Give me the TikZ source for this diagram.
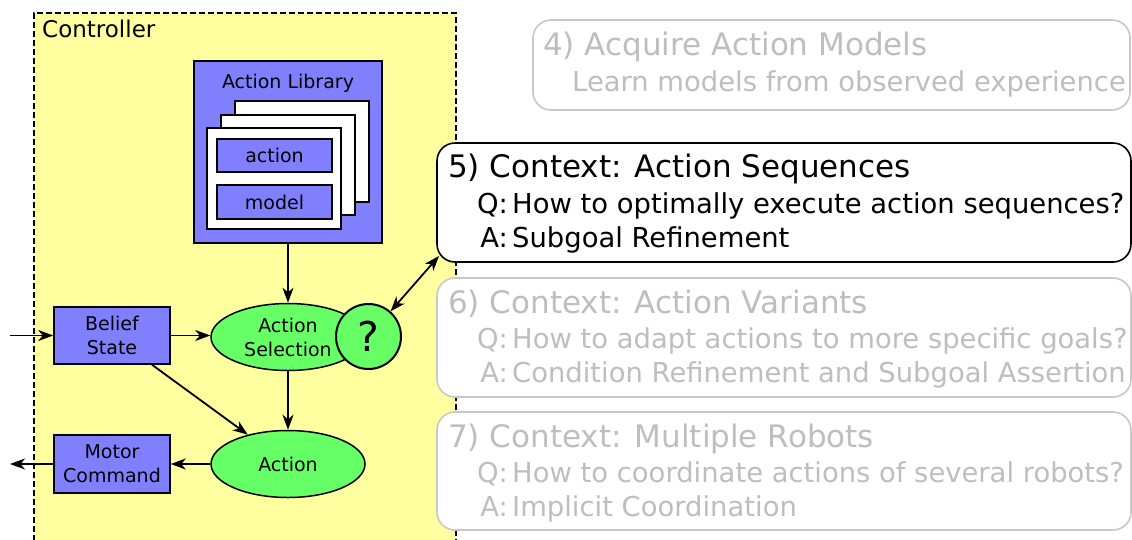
\documentclass[tikz,border=0pt]{standalone}
\usepackage{fontspec}
\setmainfont{DejaVu Sans}
\usetikzlibrary{arrows.meta,shapes.geometric}
\definecolor{ctrlyellow}{RGB}{255,255,160}
\definecolor{libblue}{RGB}{128,128,255}
\definecolor{nodegreen}{RGB}{102,255,102}
\definecolor{fadetext}{RGB}{190,190,190}
\definecolor{fadeline}{RGB}{200,200,200}
\newcommand\dgTitle{\fontsize{31}{37}\selectfont}
\newcommand\dgBody{\fontsize{27.4}{32}\selectfont}
\newcommand\dgNode{\fontsize{19}{24}\selectfont}
\newcommand\dgCtrl{\fontsize{23}{28}\selectfont}
\newcommand\dgQmark{\fontsize{41}{48}\selectfont}
\begin{document}
\begin{tikzpicture}[x=1pt,y=-1pt,
  bluebox/.style={draw=black, fill=libblue, line width=1.5pt, inner sep=0pt, align=center, font=\dgNode},
  greenell/.style={ellipse, draw=black, fill=nodegreen, line width=1.5pt, inner sep=0pt, align=center, font=\dgNode},
  card/.style={draw=black, fill=white, line width=1.5pt, inner sep=0pt},
  ctxbox/.style={rounded corners=18pt, fill=white, line width=1.6pt, inner sep=0pt},
  ctxtext/.style={inner sep=0pt, anchor=base west},
  ctxlabel/.style={inner sep=0pt, anchor=base east, font=\dgBody},
  ctxbody/.style={inner sep=0pt, anchor=base west, font=\dgBody},
  tipstyle/.style={},
  arr/.style={-{Stealth[length=15pt,width=11pt,inset=4.5pt]}, line width=1.8pt},
  darr/.style={{Stealth[length=15pt,width=11pt,inset=4.5pt]}-{Stealth[length=15pt,width=11pt,inset=4.5pt]}, line width=1.8pt},
  faded/.style={text=fadetext}
]
\useasboundingbox (0,0) rectangle (1132,539);

% controller area
\node[draw=black, fill=ctrlyellow, dash pattern=on 6pt off 3pt, line width=1.5pt,
      minimum width=422pt, minimum height=560pt, anchor=north west, inner sep=0pt] (ctrl) at (33,12) {};
\node[anchor=base west, inner sep=0pt, font=\dgCtrl] (ctrllbl) at (42,37) {Controller};

% action library
\node[bluebox, minimum width=188pt, minimum height=182pt] (lib) at (288,152) {};
\node[anchor=base, inner sep=0pt, font=\dgNode] (liblbl) at (288,88) {Action Library};
\node[card, minimum width=134pt, minimum height=101pt] (cardA) at (302,151.5) {};
\node[card, minimum width=134pt, minimum height=100pt] (cardB) at (288,165) {};
\node[card, minimum width=134pt, minimum height=101pt] (cardC) at (274,178.5) {};
\node[bluebox, minimum width=115pt, minimum height=33pt] (actbox) at (274.5,155.5) {action};
\node[bluebox, minimum width=115pt, minimum height=34pt] (modbox) at (274.5,202) {model};

% main nodes
\node[greenell, minimum width=154pt, minimum height=67pt] (as) at (288,337) {Action\\Selection};
\node[circle, draw=black, fill=nodegreen, line width=2pt, minimum size=65pt, inner sep=0pt, font=\dgQmark] (q) at (368.5,336.5) {?};
\node[greenell, minimum width=154pt, minimum height=67pt] (act) at (288,464) {Action};
\node[bluebox, minimum width=116pt, minimum height=57pt] (bs) at (112,335.5) {Belief\\State};
\node[bluebox, minimum width=116pt, minimum height=58pt] (mc) at (112,464) {Motor\\Command};

\coordinate (inL) at (10,335.5);
\coordinate (outL) at (10,464);

\draw[arr] (inL) -- (bs);
\draw[arr] (bs.east) -- (bs.east -| as.west);
\draw[arr] (lib) -- (as);
\draw[arr] (as) -- (act);
\draw[arr] (bs) -- (act);
\draw[arr] (act) -- (mc);
\draw[arr] (mc) -- (outL);

% context boxes
\node[ctxbox, draw=fadeline, minimum width=597pt, minimum height=90pt] (b4) at (831.5,65) {};
\node[ctxbox, draw=black, minimum width=694pt, minimum height=119pt] (b5) at (784,202.5) {};
\node[ctxbox, draw=fadeline, minimum width=694pt, minimum height=119pt] (b6) at (784,337.5) {};
\node[ctxbox, draw=fadeline, minimum width=694pt, minimum height=118pt] (b7) at (784,471) {};

\node[ctxtext, faded, font=\dgTitle] (t4) at (543,55) {4) Acquire Action Models};
\node[ctxbody, faded] (l4) at (572,91) {Learn models from observed experience};

\node[ctxtext, font=\dgTitle] (t5) at (448,177) {5) Context: Action Sequences};
\node[ctxlabel] (q5l) at (508,213) {Q:};
\node[ctxbody] (q5) at (512,213) {How to optimally execute action sequences?};
\node[ctxlabel] (a5l) at (508,247) {A:};
\node[ctxbody] (a5) at (512,247) {Subgoal Refinement};

\node[ctxtext, faded, font=\dgTitle] (t6) at (448,313) {6) Context: Action Variants};
\node[ctxlabel, faded] (q6l) at (508,348) {Q:};
\node[ctxbody, faded] (q6) at (512,348) {How to adapt actions to more specific goals?};
\node[ctxlabel, faded] (a6l) at (508,382) {A:};
\node[ctxbody, faded] (a6) at (512,382) {Condition Refinement and Subgoal Assertion};

\node[ctxtext, faded, font=\dgTitle] (t7) at (448,447) {7) Context: Multiple Robots};
\node[ctxlabel, faded] (q7l) at (508,482) {Q:};
\node[ctxbody, faded] (q7) at (512,482) {How to coordinate actions of several robots?};
\node[ctxlabel, faded] (a7l) at (508,516) {A:};
\node[ctxbody, faded] (a7) at (512,516) {Implicit Coordination};

\coordinate (c5) at (439,256);
\draw[darr] (q) -- (c5);
\end{tikzpicture}
\end{document}
